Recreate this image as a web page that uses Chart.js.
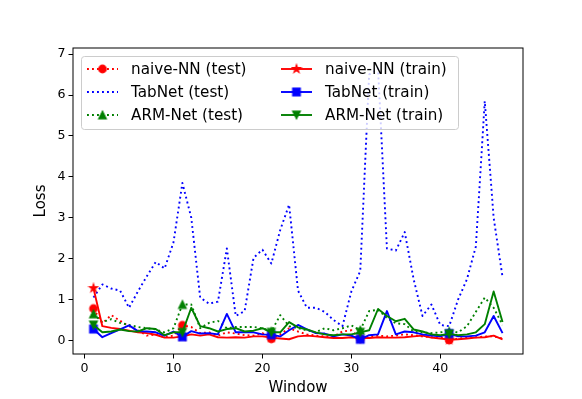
<!DOCTYPE html>
<html>
<head>
<meta charset="utf-8">
<script src="https://cdn.jsdelivr.net/npm/chart.js@4.4.1/dist/chart.umd.min.js"></script>
<style>
  html, body { margin: 0; padding: 0; background: #fff; }
</style>
</head>
<body>
<canvas id="lossChart" width="582" height="399"></canvas>
<script>
const windows = [1, 2, 3, 4, 5, 6, 7, 8, 9, 10, 11, 12, 13, 14, 15, 16, 17, 18, 19, 20,
  21, 22, 23, 24, 25, 26, 27, 28, 29, 30, 31, 32, 33, 34, 35, 36, 37, 38, 39, 40,
  41, 42, 43, 44, 45, 46, 47];

const naiveTest = [0.78, 0.42, 0.62, 0.48, 0.35, 0.25, 0.12, 0.15, 0.08, 0.12,
  0.37, 0.33, 0.18, 0.20, 0.12, 0.20, 0.17, 0.13, 0.12, 0.18,
  0.04, 0.15, 0.30, 0.22, 0.15, 0.12, 0.10, 0.10, 0.22, 0.25,
  0.04, 0.10, 0.12, 0.10, 0.12, 0.15, 0.13, 0.10, 0.08, 0.08,
  0.01, 0.05, 0.07, 0.08, 0.10, 0.10, 0.05];
const tabnetTest = [1.05, 1.37, 1.27, 1.22, 0.80, 1.20, 1.57, 1.92, 1.76, 2.40,
  3.85, 3.00, 1.05, 0.90, 0.95, 2.25, 0.60, 0.72, 2.02, 2.22,
  1.88, 2.70, 3.32, 1.22, 0.80, 0.80, 0.70, 0.50, 0.35, 1.20,
  1.70, 6.50, 6.65, 2.25, 2.20, 2.65, 1.50, 0.60, 0.88, 0.38,
  0.35, 1.00, 1.50, 2.30, 5.85, 3.00, 1.55];
const armTest = [0.65, 0.45, 0.52, 0.43, 0.38, 0.33, 0.30, 0.27, 0.20, 0.30,
  0.88, 0.88, 0.30, 0.43, 0.48, 0.30, 0.33, 0.33, 0.33, 0.30,
  0.22, 0.62, 0.35, 0.30, 0.25, 0.20, 0.30, 0.25, 0.30, 0.37,
  0.25, 0.72, 0.75, 0.55, 0.42, 0.40, 0.22, 0.20, 0.18, 0.20,
  0.22, 0.20, 0.35, 0.70, 1.05, 0.80, 0.38];
const naiveTrain = [1.28, 0.35, 0.31, 0.28, 0.24, 0.20, 0.18, 0.14, 0.07, 0.07,
  0.10, 0.15, 0.12, 0.15, 0.08, 0.07, 0.08, 0.07, 0.10, 0.10,
  0.07, 0.05, 0.03, 0.10, 0.12, 0.10, 0.08, 0.06, 0.06, 0.08,
  0.06, 0.06, 0.08, 0.07, 0.07, 0.08, 0.10, 0.12, 0.07, 0.05,
  0.02, 0.03, 0.05, 0.07, 0.08, 0.12, 0.03];
const tabnetTrain = [0.28, 0.08, 0.18, 0.27, 0.37, 0.23, 0.22, 0.20, 0.12, 0.22,
  0.09, 0.23, 0.17, 0.18, 0.15, 0.65, 0.20, 0.20, 0.20, 0.15,
  0.14, 0.10, 0.25, 0.38, 0.27, 0.18, 0.17, 0.10, 0.15, 0.12,
  0.03, 0.13, 0.15, 0.72, 0.15, 0.22, 0.20, 0.15, 0.12, 0.10,
  0.17, 0.10, 0.10, 0.12, 0.20, 0.60, 0.18];
const armTrain = [0.38, 0.20, 0.22, 0.27, 0.23, 0.22, 0.30, 0.28, 0.13, 0.20,
  0.20, 0.80, 0.35, 0.30, 0.22, 0.28, 0.30, 0.22, 0.24, 0.30,
  0.20, 0.20, 0.45, 0.32, 0.27, 0.20, 0.15, 0.13, 0.15, 0.15,
  0.20, 0.25, 0.77, 0.60, 0.47, 0.53, 0.27, 0.22, 0.15, 0.13,
  0.16, 0.13, 0.15, 0.20, 0.40, 1.20, 0.45];

const xTicks = [0, 10, 20, 30, 40];
const yTicks = [0, 1, 2, 3, 4, 5, 6, 7];

const FONT = 'DejaVu Sans';
const RED = '#ff0000', BLUE = '#0000ff', GREEN = '#008000';
const DOTS = [1.9, 3.1];

// little canvases used as matplotlib-like markers
function makeMarker(shape, color) {
  const c = document.createElement('canvas');
  c.width = 12; c.height = 12;
  const g = c.getContext('2d');
  const cx = 6, cy = 6, r = 3.8;
  g.fillStyle = color;
  g.strokeStyle = color;
  g.lineWidth = 1.2;
  g.beginPath();
  if (shape === 'circle') {
    g.arc(cx, cy, r, 0, Math.PI * 2);
  } else if (shape === 'square') {
    g.rect(cx - r, cy - r, 2 * r, 2 * r);
  } else if (shape === 'triUp') {
    g.moveTo(cx, cy - r); g.lineTo(cx - r, cy + r); g.lineTo(cx + r, cy + r);
  } else if (shape === 'triDown') {
    g.moveTo(cx, cy + r); g.lineTo(cx - r, cy - r); g.lineTo(cx + r, cy - r);
  } else if (shape === 'star') {
    for (let k = 0; k < 10; k++) {
      const rad = k % 2 === 0 ? r + 0.4 : (r + 0.4) * 0.382;
      const a = -Math.PI / 2 + k * Math.PI / 5;
      const px = cx + rad * Math.cos(a), py = cy + rad * Math.sin(a);
      if (k === 0) g.moveTo(px, py); else g.lineTo(px, py);
    }
  }
  g.closePath();
  g.fill();
  g.stroke();
  return c;
}

const series = [
  { label: 'naive-NN (test)', values: naiveTest, color: RED, dash: DOTS, marker: 'circle' },
  { label: 'TabNet (test)', values: tabnetTest, color: BLUE, dash: DOTS, marker: null },
  { label: 'ARM-Net (test)', values: armTest, color: GREEN, dash: DOTS, marker: 'triUp' },
  { label: 'naive-NN (train)', values: naiveTrain, color: RED, dash: [], marker: 'star' },
  { label: 'TabNet (train)', values: tabnetTrain, color: BLUE, dash: [], marker: 'square' },
  { label: 'ARM-Net (train)', values: armTrain, color: GREEN, dash: [], marker: 'triDown' }
];

const datasets = series.map((s, i) => {
  const img = s.marker ? makeMarker(s.marker, s.color) : 'circle';
  return {
    label: s.label,
    data: windows.map((w, j) => ({ x: w, y: s.values[j] })),
    borderColor: s.color,
    backgroundColor: s.color,
    borderWidth: 1.9,
    borderDash: s.dash,
    borderJoinStyle: 'round',
    borderCapStyle: 'butt',
    tension: 0,
    fill: false,
    pointStyle: img,
    pointRadius: ctx => (s.marker && ctx.dataIndex % 10 === 0) ? 5 : 0,
    pointHoverRadius: 0,
    order: series.length - i,
    _marker: s.marker ? img : null
  };
});

const framePlugin = {
  id: 'frame',
  afterDatasetsDraw(chart) {
    const { ctx, chartArea: a } = chart;
    ctx.save();
    ctx.strokeStyle = '#000';
    ctx.lineWidth = 1;
    ctx.strokeRect(a.left, a.top, a.right - a.left, a.bottom - a.top);
    ctx.restore();
  }
};

// two-column legend like matplotlib ncol=2 (tests left, trains right)
const legendPlugin = {
  id: 'mplLegend',
  afterDraw(chart) {
    const ctx = chart.ctx;
    const box = { x: 81, y: 56, w: 377, h: 73, r: 3 };
    ctx.save();
    ctx.beginPath();
    ctx.roundRect(box.x + 0.5, box.y + 0.5, box.w, box.h, box.r);
    ctx.fillStyle = 'rgba(255,255,255,0.8)';
    ctx.fill();
    ctx.strokeStyle = '#cccccc';
    ctx.lineWidth = 1;
    ctx.stroke();

    const cols = [87, 281];
    const rows = [69, 92, 115];
    const handleLen = 31;
    ctx.font = '15.2px "' + FONT + '"';
    ctx.textBaseline = 'middle';
    ctx.textAlign = 'left';
    chart.data.datasets.forEach((ds, i) => {
      const col = cols[Math.floor(i / 3)];
      const y = rows[i % 3];
      ctx.beginPath();
      ctx.setLineDash(ds.borderDash);
      ctx.strokeStyle = ds.borderColor;
      ctx.lineWidth = ds.borderWidth;
      ctx.lineCap = 'butt';
      ctx.moveTo(col, y);
      ctx.lineTo(col + handleLen, y);
      ctx.stroke();
      ctx.setLineDash([]);
      if (ds._marker) {
        const m = ds._marker;
        ctx.drawImage(m, col + handleLen / 2 - m.width / 2, y - m.height / 2);
      }
      ctx.fillStyle = '#000';
      ctx.fillText(ds.label, col + handleLen + 13, y + 1);
    });
    ctx.restore();
  }
};

new Chart(document.getElementById('lossChart').getContext('2d'), {
  type: 'line',
  data: { datasets },
  plugins: [framePlugin, legendPlugin],
  options: {
    responsive: false,
    animation: false,
    devicePixelRatio: 1,
    layout: { padding: { left: 0, top: 48, right: 59, bottom: 0 } },
    plugins: { legend: { display: false }, tooltip: { enabled: false } },
    scales: {
      x: {
        type: 'linear',
        min: -1.3,
        max: 49.3,
        afterBuildTicks: scale => { scale.ticks = xTicks.map(v => ({ value: v })); },
        afterFit: scale => { scale.height = 45; },
        grid: { drawOnChartArea: false, drawTicks: true, tickLength: 4.5, color: '#000', lineWidth: 1 },
        border: { display: false },
        ticks: { color: '#000', padding: 3, maxRotation: 0, font: { family: FONT, size: 12.6 } },
        title: { display: true, text: 'Window', color: '#000', font: { family: FONT, size: 15 }, padding: { top: 0, bottom: 2 } }
      },
      y: {
        type: 'linear',
        min: -0.33,
        max: 7.15,
        afterBuildTicks: scale => { scale.ticks = yTicks.map(v => ({ value: v })); },
        afterFit: scale => { scale.width = 73; },
        grid: { drawOnChartArea: false, drawTicks: true, tickLength: 4.5, color: '#000', lineWidth: 1 },
        border: { display: false },
        ticks: { color: '#000', padding: 3, font: { family: FONT, size: 12.6 } },
        title: { display: true, text: 'Loss', color: '#000', font: { family: FONT, size: 15 }, padding: { top: 32, bottom: 0 } }
      }
    }
  }
});
</script>
</body>
</html>
